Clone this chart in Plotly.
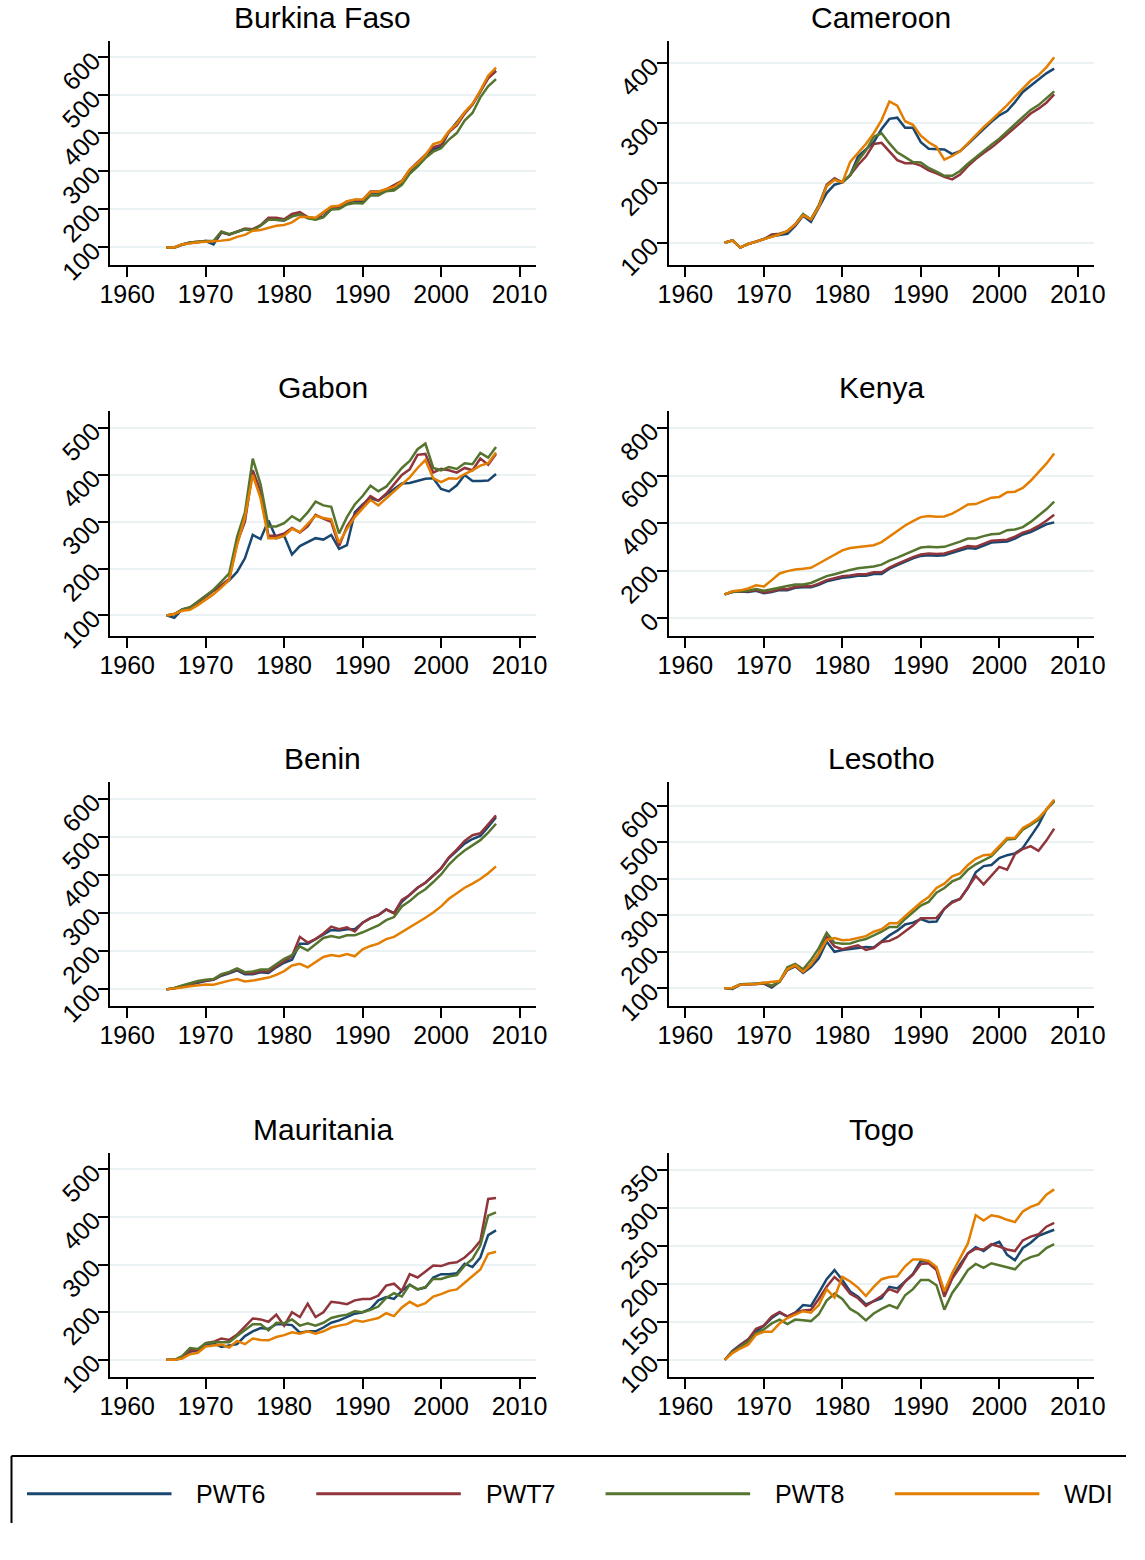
import plotly.graph_objects as go

# ---- data: GDP per capita index (1965 = 100) ----
years = list(range(1965, 2008))

series_names = ["PWT6", "PWT7", "PWT8", "WDI"]
series_colors = ["#1a476f", "#90353b", "#55752f", "#e37e00"]

bfa_pwt6 = [100, 99, 107, 112, 114, 117, 108, 139, 134, 142, 148, 146, 158, 174, 172, 171, 182, 187, 179, 175, 181, 201, 203, 215, 219, 219, 243, 243, 249, 255, 270, 300, 318, 340, 358, 366, 404, 430, 455, 476, 510, 548, 565]
bfa_pwt7 = [100, 100, 108, 113, 115, 117, 116, 141, 134, 143, 150, 148, 159, 178, 178, 174, 188, 193, 180, 176, 190, 206, 207, 221, 225, 225, 247, 247, 253, 263, 275, 304, 324, 345, 364, 370, 404, 421, 452, 476, 512, 545, 564]
bfa_pwt8 = [100, 100, 108, 113, 115, 117, 117, 142, 135, 142, 148, 146, 157, 173, 173, 171, 182, 187, 177, 173, 179, 200, 201, 213, 217, 216, 237, 237, 248, 250, 265, 294, 313, 335, 352, 361, 384, 401, 434, 454, 495, 524, 543]
bfa_wdi = [100, 100, 108, 112, 114, 115, 116, 118, 120, 128, 133, 144, 146, 151, 157, 159, 166, 180, 180, 178, 193, 208, 210, 221, 226, 226, 246, 246, 254, 259, 274, 305, 322, 343, 372, 378, 406, 426, 456, 478, 513, 552, 573]

cmr_pwt6 = [100, 104, 92, 98, 102, 106, 111, 113, 115, 128, 145, 135, 158, 183, 197, 201, 213, 244, 256, 268, 290, 307, 309, 292, 292, 268, 257, 257, 256, 248, 253, 265, 278, 290, 302, 313, 320, 335, 352, 362, 372, 383, 391]
cmr_pwt7 = [100, 104, 92, 98, 102, 106, 114, 115, 119, 130, 147, 139, 162, 197, 208, 201, 213, 230, 244, 265, 267, 252, 238, 233, 233, 229, 221, 216, 210, 206, 214, 228, 240, 250, 259, 270, 281, 292, 304, 316, 324, 334, 348]
cmr_pwt8 = [100, 104, 92, 98, 102, 106, 111, 114, 119, 131, 148, 139, 162, 195, 206, 201, 213, 237, 254, 277, 283, 266, 251, 243, 235, 234, 225, 219, 212, 212, 220, 232, 243, 254, 264, 274, 286, 297, 310, 322, 330, 341, 353]
cmr_wdi = [100, 104, 92, 98, 102, 106, 111, 114, 120, 131, 146, 139, 160, 195, 205, 201, 235, 250, 265, 283, 305, 336, 329, 303, 297, 279, 268, 260, 239, 245, 253, 266, 280, 293, 305, 317, 330, 344, 358, 371, 380, 393, 410]

gab_pwt6 = [100, 95, 113, 117, 128, 140, 153, 163, 175, 193, 222, 272, 263, 303, 265, 270, 230, 248, 257, 265, 262, 272, 242, 250, 320, 337, 350, 345, 358, 370, 382, 383, 388, 392, 393, 370, 365, 378, 400, 387, 387, 388, 402]
gab_pwt7 = [100, 103, 112, 117, 128, 140, 152, 165, 178, 255, 300, 410, 365, 270, 270, 275, 287, 277, 290, 315, 307, 300, 248, 290, 315, 335, 355, 345, 360, 380, 400, 412, 443, 445, 405, 413, 410, 405, 415, 410, 435, 422, 445]
gab_pwt8 = [100, 103, 113, 117, 130, 142, 155, 172, 190, 268, 320, 435, 380, 290, 290, 297, 312, 302, 320, 343, 335, 332, 275, 310, 337, 355, 377, 365, 375, 395, 415, 430, 455, 467, 415, 410, 417, 413, 425, 423, 447, 437, 460]
gab_wdi = [100, 103, 110, 112, 122, 133, 145, 160, 176, 250, 310, 400, 350, 265, 265, 270, 285, 278, 295, 313, 308, 305, 255, 285, 310, 328, 347, 335, 350, 365, 382, 395, 415, 432, 393, 385, 393, 392, 402, 410, 420, 425, 448]

ken_pwt6 = [100, 110, 112, 110, 115, 105, 110, 118, 118, 128, 130, 130, 140, 155, 163, 170, 173, 178, 178, 186, 186, 208, 223, 238, 252, 262, 265, 263, 265, 275, 285, 295, 292, 305, 318, 320, 322, 335, 352, 362, 378, 395, 403]
ken_pwt7 = [100, 111, 113, 113, 118, 108, 113, 122, 122, 132, 134, 134, 145, 160, 168, 176, 180, 185, 185, 193, 193, 213, 228, 243, 257, 268, 272, 270, 272, 282, 292, 303, 300, 313, 326, 328, 330, 343, 360, 370, 388, 410, 435]
ken_pwt8 = [100, 111, 113, 116, 123, 115, 122, 130, 135, 142, 142, 148, 162, 177, 185, 195, 203, 210, 212, 217, 225, 242, 255, 270, 285, 297, 300, 298, 300, 310, 322, 335, 335, 345, 353, 355, 370, 373, 383, 405, 430, 458, 490]
ken_wdi = [100, 113, 117, 125, 138, 133, 160, 188, 198, 205, 208, 212, 230, 248, 268, 285, 295, 300, 303, 307, 320, 343, 365, 390, 408, 425, 430, 427, 428, 440, 458, 478, 480, 495, 507, 510, 530, 532, 548, 578, 615, 650, 693]

ben_pwt6 = [100, 103, 108, 113, 119, 122, 125, 136, 142, 150, 140, 140, 145, 143, 158, 170, 178, 220, 220, 232, 245, 256, 255, 258, 258, 275, 287, 295, 310, 300, 330, 348, 367, 380, 400, 418, 445, 465, 483, 495, 503, 527, 552]
ben_pwt7 = [100, 103, 108, 114, 120, 123, 126, 138, 144, 153, 143, 142, 148, 147, 160, 175, 187, 238, 223, 232, 247, 265, 258, 263, 252, 275, 287, 295, 310, 300, 335, 348, 367, 380, 400, 418, 447, 467, 490, 505, 510, 535, 557]
ben_pwt8 = [100, 104, 110, 116, 122, 125, 127, 140, 146, 155, 145, 147, 152, 152, 165, 180, 190, 213, 202, 218, 235, 240, 236, 242, 242, 250, 260, 268, 282, 290, 318, 332, 350, 363, 382, 402, 428, 448, 465, 478, 492, 512, 535]
ben_wdi = [100, 102, 105, 108, 111, 113, 112, 118, 123, 127, 121, 123, 128, 131, 138, 148, 163, 167, 158, 172, 185, 190, 187, 193, 187, 205, 214, 220, 232, 238, 250, 262, 276, 288, 302, 318, 338, 352, 367, 378, 390, 405, 423]

lso_pwt6 = [100, 98, 110, 110, 112, 113, 102, 118, 150, 160, 142, 158, 182, 228, 200, 205, 207, 210, 213, 212, 228, 245, 258, 275, 280, 290, 282, 283, 318, 338, 345, 375, 418, 435, 438, 457, 465, 470, 485, 517, 548, 590, 615]
lso_pwt7 = [100, 101, 110, 110, 112, 113, 105, 118, 152, 162, 145, 165, 195, 242, 215, 207, 212, 218, 205, 210, 227, 230, 240, 255, 272, 292, 292, 293, 318, 335, 345, 375, 408, 385, 408, 433, 425, 468, 482, 490, 477, 505, 538]
lso_pwt8 = [100, 101, 111, 111, 113, 115, 107, 118, 158, 167, 152, 178, 210, 252, 225, 222, 223, 230, 235, 245, 255, 268, 268, 290, 308, 327, 337, 362, 375, 393, 402, 425, 440, 452, 462, 485, 508, 510, 535, 548, 562, 590, 612]
lso_wdi = [100, 101, 110, 110, 112, 115, 118, 120, 152, 163, 145, 165, 195, 233, 238, 232, 233, 238, 243, 255, 262, 278, 278, 298, 317, 335, 350, 375, 387, 407, 415, 438, 455, 465, 467, 490, 512, 513, 540, 552, 567, 590, 618]

mrt_pwt6 = [100, 100, 104, 117, 120, 132, 135, 127, 130, 133, 150, 160, 167, 165, 175, 175, 173, 157, 160, 160, 168, 178, 183, 190, 197, 200, 207, 225, 232, 228, 245, 258, 248, 252, 273, 280, 280, 282, 302, 295, 315, 362, 372]
mrt_pwt7 = [100, 100, 104, 120, 120, 135, 138, 145, 142, 153, 170, 187, 185, 180, 195, 172, 200, 190, 218, 190, 200, 222, 220, 217, 225, 228, 228, 235, 256, 260, 245, 280, 273, 285, 298, 297, 303, 305, 315, 330, 350, 438, 440]
mrt_pwt8 = [100, 100, 108, 125, 123, 135, 137, 137, 137, 150, 163, 175, 175, 162, 178, 177, 185, 172, 177, 172, 178, 188, 192, 195, 202, 200, 205, 212, 230, 240, 233, 258, 248, 253, 270, 270, 275, 278, 298, 312, 340, 403, 410]
mrt_wdi = [100, 100, 103, 112, 115, 128, 130, 132, 126, 140, 133, 145, 142, 141, 148, 152, 158, 155, 160, 155, 160, 168, 172, 175, 183, 180, 184, 188, 198, 192, 210, 222, 213, 219, 233, 238, 245, 248, 262, 276, 290, 323, 327]

tgo_pwt6 = [100, 112, 120, 127, 137, 145, 155, 162, 157, 162, 172, 171, 188, 206, 218, 205, 190, 183, 173, 177, 181, 196, 194, 203, 213, 230, 229, 220, 187, 208, 225, 240, 248, 243, 251, 255, 238, 231, 247, 254, 263, 267, 271]
tgo_pwt7 = [100, 111, 119, 127, 141, 145, 157, 163, 157, 162, 165, 166, 180, 196, 209, 200, 187, 181, 171, 178, 184, 193, 189, 203, 212, 226, 227, 218, 183, 207, 222, 240, 246, 245, 252, 249, 245, 243, 257, 262, 265, 275, 280]
tgo_pwt8 = [100, 110, 117, 124, 135, 140, 148, 153, 147, 153, 152, 151, 160, 178, 187, 180, 167, 161, 152, 161, 167, 172, 168, 185, 193, 205, 205, 198, 166, 188, 202, 218, 226, 221, 227, 224, 222, 219, 230, 235, 238, 247, 252]
tgo_wdi = [100, 109, 115, 120, 133, 137, 137, 148, 155, 160, 164, 162, 172, 193, 182, 209, 203, 195, 184, 196, 206, 209, 210, 223, 232, 232, 230, 222, 190, 214, 233, 253, 290, 283, 290, 288, 284, 281, 295, 301, 305, 317, 324]

x_ticks = [1960, 1970, 1980, 1990, 2000, 2010]

# panel: title, series, y tick values, y axis range
panels = [
    ("Burkina Faso", [bfa_pwt6, bfa_pwt7, bfa_pwt8, bfa_wdi], [100, 200, 300, 400, 500, 600], [54, 644]),
    ("Cameroon", [cmr_pwt6, cmr_pwt7, cmr_pwt8, cmr_wdi], [100, 200, 300, 400], [63, 437.5]),
    ("Gabon", [gab_pwt6, gab_pwt7, gab_pwt8, gab_wdi], [100, 200, 300, 400, 500], [57, 536]),
    ("Kenya", [ken_pwt6, ken_pwt7, ken_pwt8, ken_wdi], [0, 200, 400, 600, 800], [-73, 870]),
    ("Benin", [ben_pwt6, ben_pwt7, ben_pwt8, ben_wdi], [100, 200, 300, 400, 500, 600], [56, 645]),
    ("Lesotho", [lso_pwt6, lso_pwt7, lso_pwt8, lso_wdi], [100, 200, 300, 400, 500, 600], [51, 666]),
    ("Mauritania", [mrt_pwt6, mrt_pwt7, mrt_pwt8, mrt_wdi], [100, 200, 300, 400, 500], [64, 535]),
    ("Togo", [tgo_pwt6, tgo_pwt7, tgo_pwt8, tgo_wdi], [100, 150, 200, 250, 300, 350], [77.6, 372]),
]

# ---- page geometry ----
# The page body keeps the browser's default 8px margin, so the figure is made
# 16px smaller than the 1145x1560 page and all positions below are page pixels.
PAGE_W, PAGE_H = 1145, 1560
BODY = 8
FW, FH = PAGE_W - BODY, PAGE_H - 2 * BODY


def paper_x(px):
    return (px - BODY) / FW


def paper_y(py):
    return 1 - (py - BODY) / FH


col_left = [109.3, 678.5]
plot_w = 433.7
row_top = [49.3, 425.0, 800.7, 1176.7]
plot_h = 227.3

FONT = "Liberation Sans, Arial, Helvetica, sans-serif"
GRID = "#eaf2f3"

fig = go.Figure()
annotations = []
shapes = []

for i, (title, data, yticks, yrange) in enumerate(panels):
    r, c = divmod(i, 2)
    k = i + 1
    xa = "x" if k == 1 else f"x{k}"
    ya = "y" if k == 1 else f"y{k}"

    x0 = paper_x(col_left[c])
    x1 = paper_x(col_left[c] + plot_w)
    y1 = paper_y(row_top[r])
    y0 = paper_y(row_top[r] + plot_h)

    for name, color, vals in zip(series_names, series_colors, data):
        fig.add_trace(go.Scatter(
            x=years, y=vals, mode="lines", name=name,
            line=dict(color=color, width=2.5),
            xaxis=xa, yaxis=ya, showlegend=False, hoverinfo="skip",
        ))

    fig.layout[f"xaxis{'' if k == 1 else k}"] = dict(
        domain=[x0, x1], anchor=ya, range=[1957.85, 2012.05],
        tickvals=x_ticks, ticks="outside", ticklen=10, tickwidth=2, tickcolor="black",
        ticklabelstandoff=-4,
        showline=True, linecolor="black", linewidth=2, showgrid=False, zeroline=False,
        tickfont=dict(family=FONT, size=25, color="black"),
    )
    fig.layout[f"yaxis{'' if k == 1 else k}"] = dict(
        domain=[y0, y1], anchor=xa, range=yrange,
        tickvals=yticks, ticks="outside", ticklen=10, tickwidth=2, tickcolor="black",
        showline=True, linecolor="black", linewidth=2,
        showgrid=True, gridcolor=GRID, gridwidth=2, zeroline=False,
        tickangle=-45, tickfont=dict(family=FONT, size=25, color="black"),
    )

    annotations.append(dict(
        text=title, xref="paper", yref="paper",
        x=(x0 + x1) / 2, y=paper_y(row_top[r] - 24),
        xanchor="center", yanchor="middle", showarrow=False,
        font=dict(family=FONT, size=30, color="black"),
    ))

# ---- legend frame along the bottom (its right and bottom edges run off the page) ----
legend_y = paper_y(1522.3)
frame_top = paper_y(1484)
frame_left = 0.5 / FW
shapes.append(dict(type="line", xref="paper", yref="paper",
                   x0=frame_left, x1=1, y0=frame_top, y1=frame_top,
                   line=dict(color="black", width=2)))
shapes.append(dict(type="line", xref="paper", yref="paper",
                   x0=frame_left, x1=frame_left, y0=0, y1=frame_top,
                   line=dict(color="black", width=2)))
for j, (name, color) in enumerate(zip(series_names, series_colors)):
    lx0 = 24.3 + 295 * j
    shapes.append(dict(type="line", xref="paper", yref="paper",
                       x0=paper_x(lx0), x1=paper_x(lx0 + 147.4), y0=legend_y, y1=legend_y,
                       line=dict(color=color, width=3)))
    annotations.append(dict(
        text=name, xref="paper", yref="paper",
        x=paper_x(lx0 + 170.7), y=legend_y, xanchor="left", yanchor="middle",
        showarrow=False, font=dict(family=FONT, size=25, color="black"),
    ))

fig.update_layout(
    width=FW, height=FH, margin=dict(l=0, r=0, t=0, b=0),
    paper_bgcolor="white", plot_bgcolor="white",
    annotations=annotations, shapes=shapes, showlegend=False,
    font=dict(family=FONT, color="black"),
)

fig.write_html("out.html")
